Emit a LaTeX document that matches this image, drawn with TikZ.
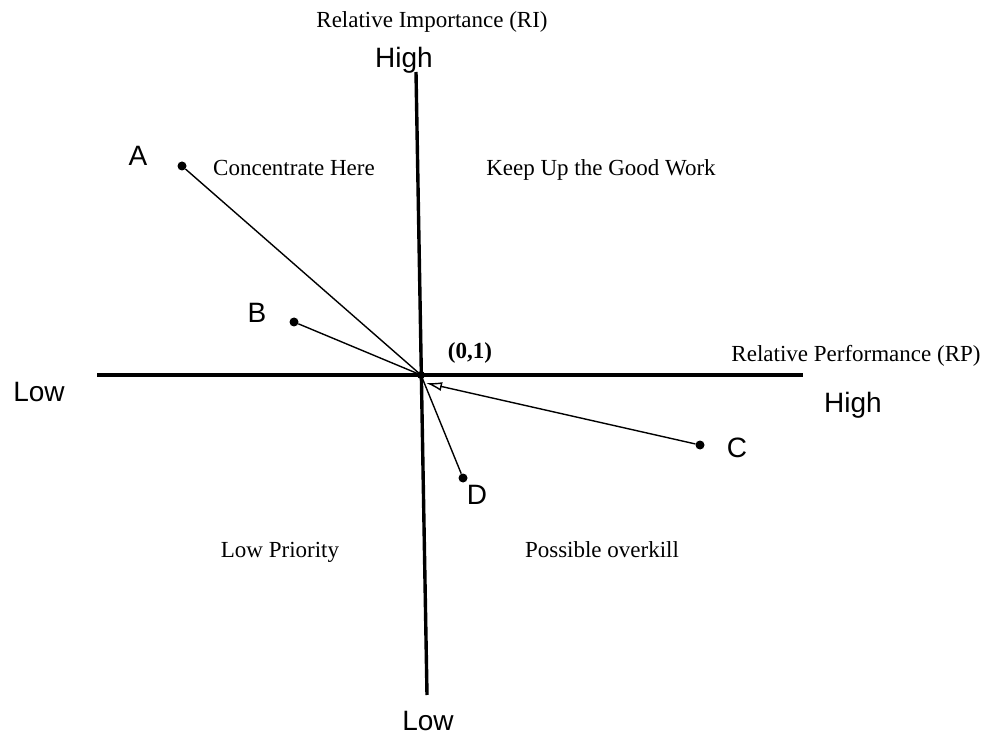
\documentclass[tikz,border=0pt]{standalone}
\usepackage{fontspec}
\setmainfont{Liberation Serif}
\newfontfamily\lsans{Liberation Sans}
\usetikzlibrary{arrows.meta}
\begin{document}
\begin{tikzpicture}[x=1pt,y=-1pt,
  axisline/.style={line width=3.4pt},
  conn/.style={line width=1.4pt},
  dotnode/.style={circle,fill=black,inner sep=0pt,minimum size=9pt},
  serlbl/.style={font=\fontsize{23}{26}\selectfont,anchor=base,inner sep=0pt},
  sanlbl/.style={font=\lsans\fontsize{28}{32}\selectfont,anchor=base,inner sep=0pt}]
\useasboundingbox (0,0) rectangle (986,735);
% axes
\coordinate (hl) at (97,375);
\coordinate (hr) at (803,375);
\coordinate (vt) at (416,72);
\coordinate (vb) at (427,695);
\draw[axisline] (hl) -- (hr);
\draw[axisline] (vt) -- (vb);
% points
\node[dotnode,minimum size=8pt] (O) at (421,375) {};
\node[dotnode] (A) at (182,166) {};
\node[dotnode] (B) at (294,322) {};
\node[dotnode] (C) at (700,445) {};
\node[dotnode] (D) at (463,478) {};
\coordinate (Ctip) at (426,383);
\draw[conn] (A) -- (O.center);
\draw[conn] (B) -- (O.center);
\draw[conn] (D) -- (O.center);
\draw[conn,-{Latex[open,length=16pt,width=9pt,line width=1.4pt]}] (C) -- (Ctip);
% labels
\node[serlbl] (ri) at (432,28) {Relative Importance (RI)};
\node[sanlbl] (hightop) at (404,68) {High};
\node[sanlbl] (la) at (138,166) {A};
\node[serlbl] (conc) at (294,176) {Concentrate Here};
\node[serlbl] (keep) at (601,176) {Keep Up the Good Work};
\node[sanlbl] (lb) at (257,323) {B};
\node[serlbl,font=\bfseries\fontsize{23}{26}\selectfont] (orig) at (470,359) {(0,1)};
\node[serlbl] (rp) at (856,362) {Relative Performance (RP)};
\node[sanlbl] (lowleft) at (39,402) {Low};
\node[sanlbl] (highright) at (853,413) {High};
\node[sanlbl] (lc) at (737,457) {C};
\node[sanlbl] (ld) at (477,504) {D};
\node[serlbl] (lowp) at (280,557) {Low Priority};
\node[serlbl] (over) at (602,557) {Possible overkill};
\node[sanlbl] (lowbot) at (428,730) {Low};
\end{tikzpicture}
\end{document}
